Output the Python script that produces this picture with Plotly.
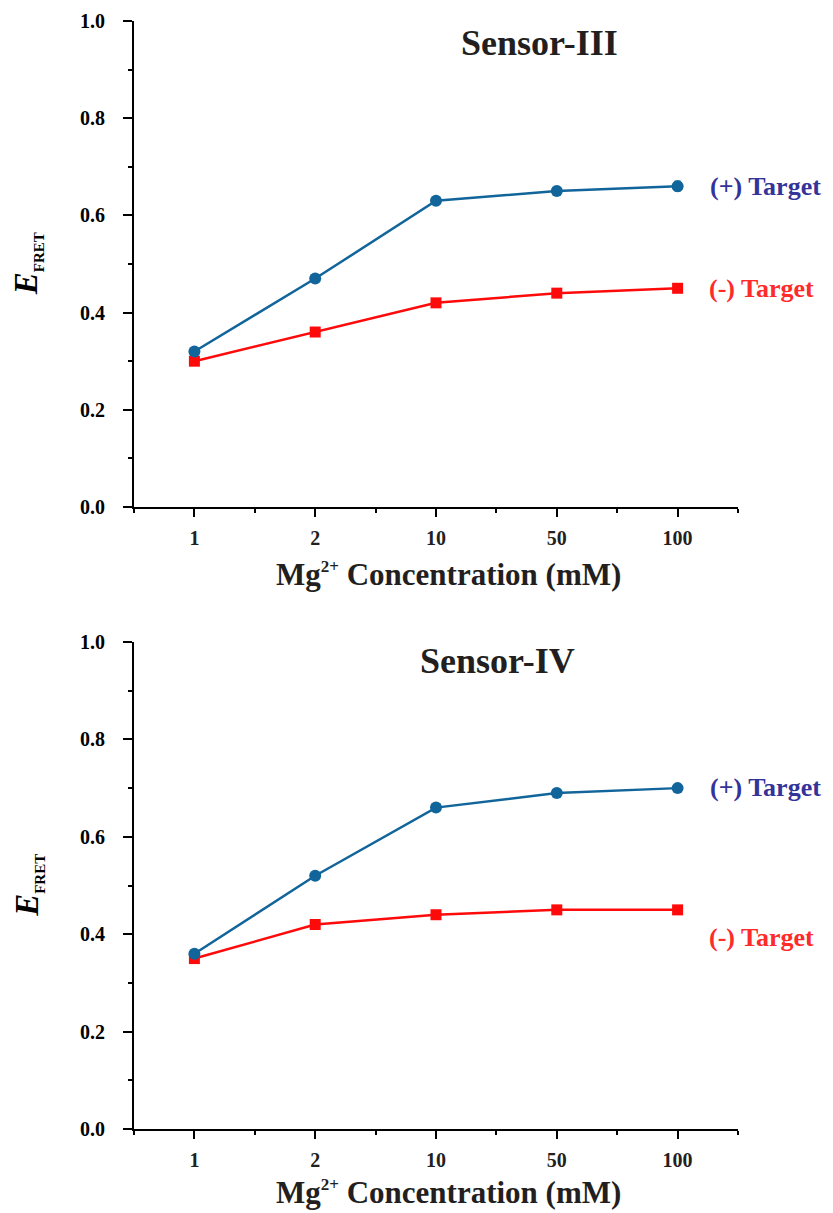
import plotly.graph_objects as go

categories = ["1", "2", "10", "50", "100"]
s3_plus = [0.32, 0.47, 0.63, 0.65, 0.66]
s3_plus_err = [0, 0, 0, 0, 0.01]
s3_minus = [0.30, 0.36, 0.42, 0.44, 0.45]
s4_plus = [0.36, 0.52, 0.66, 0.69, 0.70]
s4_minus = [0.35, 0.42, 0.44, 0.45, 0.45]

idx = list(range(len(categories)))
BLUE = "#11659a"
RED = "#ff0a0a"
LBLUE = "#333399"
LRED = "#ff2a2a"
INK = "#231f20"
FONT = "Liberation Serif"

fig = go.Figure()

def add_panel(plus, minus, xa, ya, err=None):
    fig.add_trace(go.Scatter(x=idx, y=minus, xaxis=xa, yaxis=ya, mode="lines+markers",
                             line=dict(color=RED, width=2.5),
                             marker=dict(symbol="square", size=11, color=RED),
                             showlegend=False))
    fig.add_trace(go.Scatter(x=idx, y=plus, xaxis=xa, yaxis=ya, mode="lines+markers",
                             line=dict(color=BLUE, width=2.5),
                             marker=dict(symbol="circle", size=12, color=BLUE),
                             error_y=(dict(type="data", array=err, color=BLUE, thickness=1.5, width=3)
                                      if err else None),
                             showlegend=False))

add_panel(s3_plus, s3_minus, "x", "y", s3_plus_err)
add_panel(s4_plus, s4_minus, "x2", "y2")

xcommon = dict(range=[-0.5, 4.5], tickmode="array", tickvals=idx, ticktext=categories,
               showline=True, linewidth=2, linecolor="black", ticks="outside",
               ticklen=8, tickwidth=2, tickcolor="black", showgrid=False, zeroline=False,
               automargin=False, ticklabelstandoff=4,
               tickfont=dict(family=FONT, size=20, color=INK, weight="bold"),
               minor=dict(tickvals=[i + 0.5 for i in range(-1, 5)], ticklen=4,
                          tickwidth=2, tickcolor="black", ticks="outside", showgrid=False))
ycommon = dict(range=[0, 1], tickmode="linear", tick0=0, dtick=0.2, tickformat=".1f",
               showline=True, linewidth=2, linecolor="black", ticks="outside",
               ticklen=9, tickwidth=2, tickcolor="black", showgrid=False, zeroline=False,
               automargin=False, ticklabelstandoff=14,
               tickfont=dict(family=FONT, size=20, color="black", weight="bold"),
               minor=dict(dtick=0.1, tick0=0, ticklen=4, tickwidth=2, tickcolor="black",
                          ticks="outside", showgrid=False))

fig.update_layout(
    width=825, height=1205,
    margin=dict(l=126, r=95, t=13, b=84, autoexpand=False),
    paper_bgcolor="white", plot_bgcolor="white",
    xaxis=dict(anchor="y", domain=[0, 1], **xcommon),
    yaxis=dict(anchor="x", domain=[0.5614, 1], **ycommon),
    xaxis2=dict(anchor="y2", domain=[0, 1], **xcommon),
    yaxis2=dict(anchor="x2", domain=[0, 0.4395], **ycommon),
)

ann = []
def label(text, x, y, xref, yref, size, color, xanchor="center", yanchor="middle", angle=0):
    ann.append(dict(text=text, x=x, y=y, xref=xref, yref=yref, showarrow=False,
                    xanchor=xanchor, yanchor=yanchor, textangle=angle,
                    font=dict(family=FONT, size=size, color=color)))

label("<b>Sensor-III</b>", 2.86, 0.955, "x", "y", 36, INK)
label("<b>Sensor-IV</b>", 2.51, 0.962, "x2", "y2", 36, INK)
label("<b>(+) Target</b>", 4.25, 0.66, "x", "y", 26, LBLUE, xanchor="left")
label("<b>(-) Target</b>", 4.24, 0.449, "x", "y", 26, LRED, xanchor="left")
label("<b>(+) Target</b>", 4.25, 0.702, "x2", "y2", 26, LBLUE, xanchor="left")
label("<b>(-) Target</b>", 4.24, 0.394, "x2", "y2", 26, LRED, xanchor="left")
xt = "<b>Mg<sup><span style='font-size:17px'>2+</span></sup> Concentration (mM)</b>"
label(xt, 0.52, -0.138, "x domain", "y domain", 31, INK)
label(xt, 0.52, -0.13, "x2 domain", "y2 domain", 31, INK)
yt = "<b><i>E</i></b><sub><b><span style='font-size:15px'>FRET</span></b></sub>"
label(yt, -0.175, 0.5, "x domain", "y domain", 33, "black", angle=-90)
label(yt, -0.175, 0.5, "x2 domain", "y2 domain", 33, "black", angle=-90)
fig.update_layout(annotations=ann)

fig.write_html("out.html")
